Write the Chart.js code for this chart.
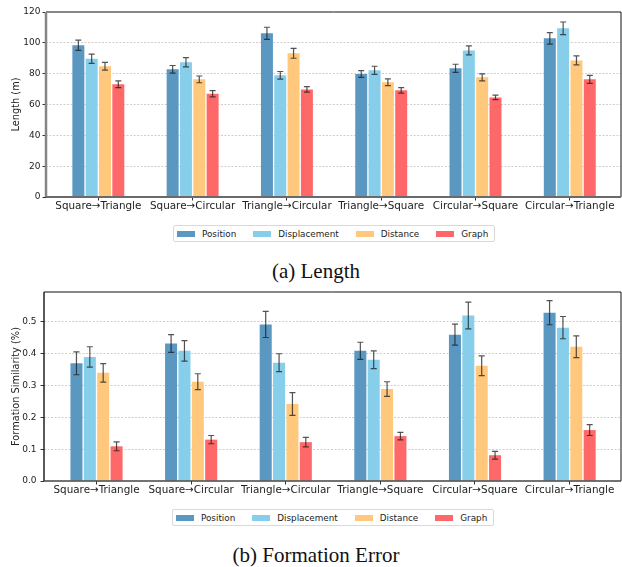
<!DOCTYPE html>
<html>
<head>
<meta charset="utf-8">
<title>Length and Formation Error</title>
<script src="https://cdn.jsdelivr.net/npm/chart.js@4.4.0/dist/chart.umd.min.js"></script>
<style>
    body {
        margin: 0;
        width: 622px;
        height: 567px;
        position: relative;
        overflow: hidden;
        background: #fff;
        font-family: 'DejaVu Sans', sans-serif;
    }
    .panel { position: absolute; left: 0; }
    .legend {
        position: absolute;
        box-sizing: border-box;
        height: 17px;
        border: 1px solid #d9d9d9;
        border-radius: 2px;
        display: flex;
        align-items: center;
        padding-left: 3px;
        font-size: 8.8px;
        color: #222;
    }
    .legend .item { display: flex; align-items: center; margin-right: 17px; }
    .legend .item:last-child { margin-right: 0; }
    .legend .patch { width: 18px; height: 6px; margin-right: 7px; }
    .caption {
        position: absolute;
        left: 0;
        width: 632px;
        text-align: center;
        font-family: 'Liberation Serif', 'Times New Roman', serif;
        font-size: 21px;
        line-height: 21px;
        color: #111;
    }
</style>
</head>
<body>
<div class="panel" style="top:0"><canvas id="lengthChart" width="622" height="215"></canvas></div>
<div class="legend" id="legendA" style="left:173px; top:225px; width:322px"></div>
<div class="caption" style="top:261px">(a) Length</div>

<div class="panel" style="top:280px"><canvas id="formationChart" width="622" height="220"></canvas></div>
<div class="legend" id="legendB" style="left:172px; top:509px; width:322px"></div>
<div class="caption" style="top:545px">(b) Formation Error</div>

<script>
// Transitions on the x axis
const categories = ['Square→Triangle', 'Square→Circular', 'Triangle→Circular',
    'Triangle→Square', 'Circular→Square', 'Circular→Triangle'];

const seriesNames = ['Position', 'Displacement', 'Distance', 'Graph'];
const seriesColors = ['#5a98c2', '#87ceeb', '#ffc87c', '#ff6868'];

// (a) Length (m): means and error (+/-)
const positionLength = [98.4, 82.8, 106.2, 79.8, 83.5, 102.9];
const positionLengthErr = [3.3, 2.5, 3.9, 2.2, 2.6, 3.7];
const displacementLength = [89.7, 87.4, 78.9, 82.2, 95.1, 109.4];
const displacementLengthErr = [3.0, 3.0, 2.5, 2.6, 2.9, 4.1];
const distanceLength = [84.8, 76.3, 93.2, 74.4, 77.6, 88.6];
const distanceLengthErr = [2.5, 2.2, 3.2, 2.2, 2.3, 2.9];
const graphLength = [73.1, 67.0, 69.8, 69.2, 64.6, 76.3];
const graphLengthErr = [2.2, 2.0, 1.8, 1.8, 1.5, 2.6];

// (b) Formation similarity: means and error (+/-)
const positionFormation = [0.370, 0.432, 0.492, 0.409, 0.460, 0.529];
const positionFormationErr = [0.036, 0.028, 0.041, 0.027, 0.033, 0.038];
const displacementFormation = [0.390, 0.409, 0.372, 0.381, 0.520, 0.482];
const displacementFormationErr = [0.032, 0.032, 0.028, 0.028, 0.042, 0.035];
const distanceFormation = [0.340, 0.312, 0.242, 0.289, 0.362, 0.422];
const distanceFormationErr = [0.029, 0.025, 0.036, 0.023, 0.031, 0.034];
const graphFormation = [0.109, 0.130, 0.122, 0.141, 0.081, 0.160];
const graphFormationErr = [0.014, 0.013, 0.015, 0.012, 0.012, 0.017];

// Tick labels
const lengthTicks = [0, 20, 40, 60, 80, 100, 120];
const formationTicks = [0, 0.1, 0.2, 0.3, 0.4, 0.5];

/**
 * Draws the error bars from each dataset's `errors` list.
 */
const errorBarPlugin = {
    id: 'errorBars',
    afterDatasetsDraw(chart) {
        const ctx = chart.ctx;
        const yScale = chart.scales.y;
        chart.data.datasets.forEach((ds, di) => {
            const meta = chart.getDatasetMeta(di);
            meta.data.forEach((bar, i) => {
                const v = ds.data[i].y;
                const e = ds.errors[i];
                const yTop = yScale.getPixelForValue(v + e);
                const yBot = yScale.getPixelForValue(v - e);
                ctx.save();
                ctx.strokeStyle = 'rgba(25, 25, 25, 0.75)';
                ctx.lineWidth = 1.2;
                ctx.beginPath();
                ctx.moveTo(bar.x, yTop);
                ctx.lineTo(bar.x, yBot);
                ctx.moveTo(bar.x - 3, yTop);
                ctx.lineTo(bar.x + 3, yTop);
                ctx.moveTo(bar.x - 3, yBot);
                ctx.lineTo(bar.x + 3, yBot);
                ctx.stroke();
                ctx.restore();
            });
        });
    }
};

/**
 * Matplotlib-like frame around the plot area, drawn above the bars.
 */
const spinePlugin = {
    id: 'spines',
    afterDatasetsDraw(chart, args, opts) {
        const { ctx, chartArea: a } = chart;
        const line = (s, x1, y1, x2, y2) => {
            ctx.save();
            ctx.strokeStyle = s.color;
            ctx.lineWidth = s.width;
            ctx.beginPath();
            ctx.moveTo(x1, y1);
            ctx.lineTo(x2, y2);
            ctx.stroke();
            ctx.restore();
        };
        line(opts.top, a.left, a.top, a.right, a.top);
        line(opts.right, a.right, a.top, a.right, a.bottom);
        line(opts.left, a.left, a.top, a.left, a.bottom);
        line(opts.bottom, a.left, a.bottom, a.right, a.bottom);
    }
};

function buildDatasets(values, errors) {
    return seriesNames.map((name, s) => ({
        label: name,
        data: values[s].map((v, i) => ({ x: i, y: v })),
        errors: errors[s],
        backgroundColor: seriesColors[s],
        categoryPercentage: 0.565,
        barPercentage: 0.9
    }));
}

function buildChart(canvasId, cfg) {
    const ctx = document.getElementById(canvasId).getContext('2d');
    const canvasHeight = ctx.canvas.height;

    new Chart(ctx, {
        type: 'bar',
        data: { datasets: buildDatasets(cfg.values, cfg.errors) },
        plugins: [spinePlugin, errorBarPlugin],
        options: {
            responsive: false,
            animation: false,
            layout: { padding: { top: 12, right: 1, left: 0, bottom: 0 } },
            plugins: {
                legend: { display: false },
                tooltip: { enabled: false },
                spines: cfg.spines
            },
            scales: {
                x: {
                    type: 'linear',
                    offset: false,
                    min: -0.555,
                    max: 5.543,
                    afterBuildTicks: (scale) => {
                        scale.ticks = categories.map((c, i) => ({ value: i }));
                    },
                    afterFit: (scale) => { scale.height = canvasHeight - cfg.plotBottom; },
                    grid: {
                        offset: false,
                        drawOnChartArea: false,
                        drawTicks: true,
                        tickLength: 3.5,
                        tickColor: '#333',
                        tickWidth: 1
                    },
                    border: { display: false },
                    ticks: {
                        autoSkip: false,
                        maxRotation: 0,
                        padding: 0,
                        color: '#222',
                        font: { family: "'DejaVu Sans', sans-serif", size: 10.4 },
                        callback: (v) => categories[v]
                    }
                },
                y: {
                    min: 0,
                    max: cfg.yMax,
                    afterBuildTicks: (scale) => {
                        scale.ticks = cfg.ticks.map((t) => ({ value: t }));
                    },
                    afterFit: (scale) => { scale.width = cfg.plotLeft; },
                    grid: {
                        drawTicks: true,
                        tickLength: 3.5,
                        tickColor: '#333',
                        tickWidth: 1,
                        lineWidth: 1,
                        color: (c) => (c.tick && c.tick.value > 0 && c.tick.value < cfg.yMax - 1e-9)
                            ? '#cfcfcf' : 'rgba(0,0,0,0)'
                    },
                    border: { display: false, dash: [2, 1.5] },
                    ticks: {
                        padding: cfg.tickPad,
                        color: '#222',
                        font: { family: "'DejaVu Sans', sans-serif", size: 9 },
                        callback: cfg.tickFormat
                    },
                    title: {
                        display: true,
                        text: cfg.yTitle,
                        color: '#222',
                        padding: { top: 11, bottom: 0 },
                        font: { family: "'DejaVu Sans', sans-serif", size: 9.8 }
                    }
                }
            }
        }
    });
}

function buildLegend(id) {
    const box = document.getElementById(id);
    seriesNames.forEach((name, s) => {
        const item = document.createElement('div');
        item.className = 'item';
        item.innerHTML = `<span class="patch" style="background:${seriesColors[s]}"></span><span>${name}</span>`;
        box.appendChild(item);
    });
}

document.addEventListener('DOMContentLoaded', () => {
    buildChart('lengthChart', {
        values: [positionLength, displacementLength, distanceLength, graphLength],
        errors: [positionLengthErr, displacementLengthErr, distanceLengthErr, graphLengthErr],
        ticks: lengthTicks,
        yMax: 120,
        yTitle: 'Length (m)',
        plotLeft: 46,
        plotBottom: 197,
        tickPad: 2,
        tickFormat: (v) => String(v),
        spines: {
            top: { color: '#111', width: 1 },
            right: { color: '#111', width: 1 },
            left: { color: '#858585', width: 2.5 },
            bottom: { color: '#6a6a6a', width: 2 }
        }
    });

    buildChart('formationChart', {
        values: [positionFormation, displacementFormation, distanceFormation, graphFormation],
        errors: [positionFormationErr, displacementFormationErr, distanceFormationErr, graphFormationErr],
        ticks: formationTicks,
        yMax: 0.594,
        yTitle: 'Formation Similarity (%)',
        plotLeft: 44,
        plotBottom: 201,
        tickPad: 4,
        tickFormat: (v) => v.toFixed(1),
        spines: {
            top: { color: '#111', width: 1 },
            right: { color: '#111', width: 1 },
            left: { color: '#222', width: 1.5 },
            bottom: { color: '#444', width: 1.5 }
        }
    });

    buildLegend('legendA');
    buildLegend('legendB');
});
</script>
</body>
</html>
